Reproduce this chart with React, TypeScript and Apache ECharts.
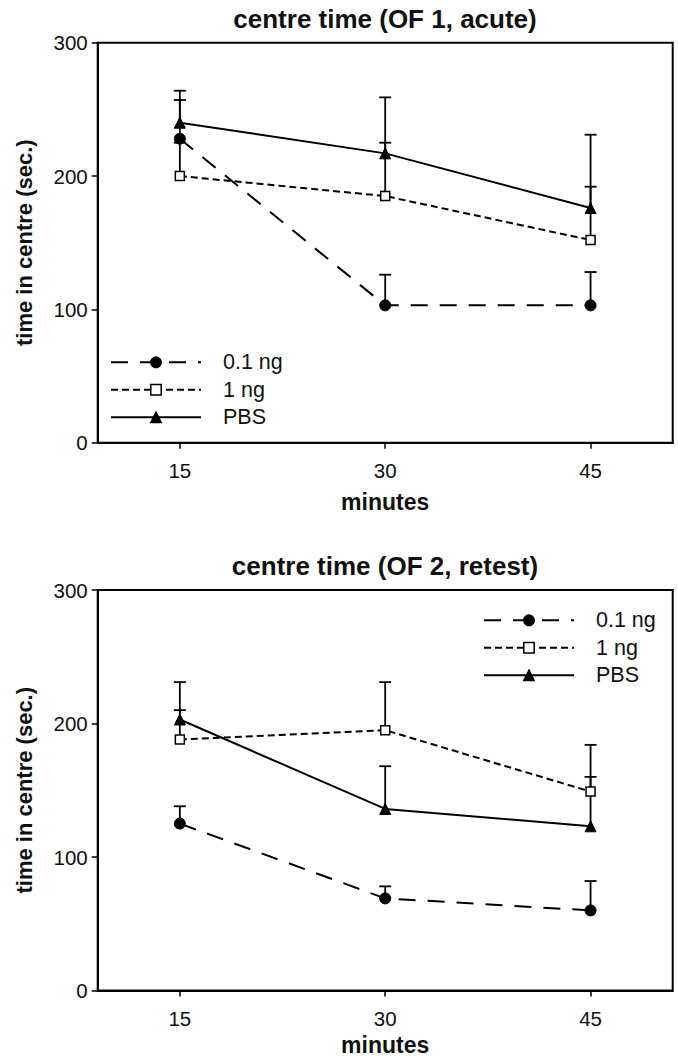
import React, { useEffect, useRef } from "react";
import * as echarts from "echarts";

// ---- data ----
const minutes = [15, 30, 45];
const xTicks = [15, 30, 45];
const seriesNames = ["0.1 ng", "1 ng", "PBS"];

// OF 1, acute
const acuteLow = [228, 103, 103];
const acuteLowTop = [257, 126, 128];
const acuteHigh = [200, 185, 152];
const acuteHighTop = [225, 225, 192];
const acutePBS = [240, 217, 176];
const acutePBSTop = [264, 259, 231];

// OF 2, retest
const retestLow = [125, 69, 60];
const retestLowTop = [138, 78, 82];
const retestHigh = [188, 195, 149];
const retestHighTop = [210, 231, 184];
const retestPBS = [203, 136, 123];
const retestPBSTop = [231, 168, 160];

const titles = ["centre time (OF 1, acute)", "centre time (OF 2, retest)"];

const FONT = "Liberation Sans";

const styles: any = {
  "0.1 ng": {
    symbol: "circle",
    symbolSize: 11,
    itemStyle: { color: "#000", borderColor: "#000", borderWidth: 1 },
    lineStyle: { color: "#000", width: 2, type: [17, 12] },
  },
  "1 ng": {
    symbol: "rect",
    symbolSize: 9,
    itemStyle: { color: "#fff", borderColor: "#000", borderWidth: 1.5 },
    lineStyle: { color: "#000", width: 2, type: [7, 4] },
  },
  PBS: {
    symbol: "triangle",
    symbolSize: 11,
    itemStyle: { color: "#000", borderColor: "#000", borderWidth: 1 },
    lineStyle: { color: "#000", width: 2, type: "solid" },
  },
};

const panels = [
  {
    vals: [acuteLow, acuteHigh, acutePBS],
    tops: [acuteLowTop, acuteHighTop, acutePBSTop],
  },
  {
    vals: [retestLow, retestHigh, retestPBS],
    tops: [retestLowTop, retestHighTop, retestPBSTop],
  },
];

function errorRender(params: any, api: any) {
  const x = api.value(0);
  const y = api.value(1);
  const hi = api.value(2);
  const p0 = api.coord([x, y]);
  const p1 = api.coord([x, hi]);
  const st = { stroke: "#000", lineWidth: 1.8 };
  return {
    type: "group",
    children: [
      { type: "line", shape: { x1: p0[0], y1: p0[1], x2: p1[0], y2: p1[1] }, style: st },
      { type: "line", shape: { x1: p1[0] - 6, y1: p1[1], x2: p1[0] + 6, y2: p1[1] }, style: st },
    ],
  };
}

export default function App() {
  const ref = useRef<HTMLDivElement>(null);

  useEffect(() => {
    if (!ref.current) return;
    const chart = echarts.init(ref.current, null, { renderer: "svg" });

    const grids = [
      { left: 97.7, right: 5.3, top: 42.7, height: 400, show: true, borderColor: "#000", borderWidth: 2 },
      { left: 97.7, right: 5.3, top: 590, height: 400.5, show: true, borderColor: "#000", borderWidth: 2 },
    ];
    const nameGaps = [48, 43];

    const xAxes = grids.map((_, i) => ({
      type: "value",
      gridIndex: i,
      min: 9,
      max: 51,
      name: "minutes",
      nameLocation: "middle",
      nameGap: nameGaps[i],
      nameTextStyle: { fontFamily: FONT, fontWeight: "bold", fontSize: 23, color: "#111" },
      axisLine: { show: true, lineStyle: { color: "#000", width: 2 } },
      axisTick: { show: true, customValues: xTicks, length: 6, lineStyle: { color: "#000", width: 1.5 } },
      axisLabel: { customValues: xTicks, margin: 17, fontFamily: FONT, fontSize: 20.5, color: "#111" },
      splitLine: { show: false },
    }));

    const yAxes = grids.map((_, i) => ({
      type: "value",
      gridIndex: i,
      min: 0,
      max: 300,
      interval: 100,
      name: "time in centre (sec.)",
      nameLocation: "middle",
      nameGap: 62,
      nameTextStyle: { fontFamily: FONT, fontWeight: "bold", fontSize: 22, color: "#111" },
      axisLine: { show: true, lineStyle: { color: "#000", width: 2 } },
      axisTick: { show: true, length: 6, lineStyle: { color: "#000", width: 1.5 } },
      axisLabel: { margin: 10, fontFamily: FONT, fontSize: 20.5, color: "#111" },
      splitLine: { show: false },
    }));

    const series: any[] = [];
    panels.forEach((p, gi) => {
      seriesNames.forEach((name, si) => {
        series.push({
          type: "custom",
          name: name + " err " + gi,
          xAxisIndex: gi,
          yAxisIndex: gi,
          z: 1,
          renderItem: errorRender,
          encode: { x: 0, y: [1, 2] },
          data: minutes.map((m, j) => [m, p.vals[si][j], p.tops[si][j]]),
        });
      });
      seriesNames.forEach((name, si) => {
        const s = styles[name];
        series.push({
          type: "line",
          name,
          xAxisIndex: gi,
          yAxisIndex: gi,
          z: 3,
          symbol: s.symbol,
          symbolSize: s.symbolSize,
          showSymbol: true,
          itemStyle: s.itemStyle,
          lineStyle: s.lineStyle,
          data: minutes.map((m, j) => [m, p.vals[si][j]]),
        });
      });
    });

    const legendBase = {
      orient: "vertical",
      selectedMode: false,
      data: seriesNames,
      itemWidth: 90,
      itemHeight: 13,
      itemGap: 5.5,
      padding: 0,
      textStyle: { fontFamily: FONT, fontSize: 21.5, color: "#111", padding: [0, 0, 0, 17] },
      itemStyle: { borderWidth: 1.5 },
    };

    chart.setOption({
      animation: false,
      backgroundColor: "#fff",
      title: titles.map((t, i) => ({
        text: t,
        left: 385,
        top: i === 0 ? 6 : 553,
        textAlign: "center",
        padding: 0,
        textStyle: { fontFamily: FONT, fontWeight: "bold", fontSize: 26, color: "#111" },
      })),
      legend: [
        { ...legendBase, left: 110, top: 351.3 },
        { ...legendBase, left: 483, top: 609.3 },
      ],
      grid: grids,
      xAxis: xAxes,
      yAxis: yAxes,
      series,
    });

    return () => chart.dispose();
  }, []);

  return (
    <div
      ref={ref}
      style={{ position: "absolute", left: 0, top: 0, width: 678, height: 1061, background: "#fff" }}
    />
  );
}
